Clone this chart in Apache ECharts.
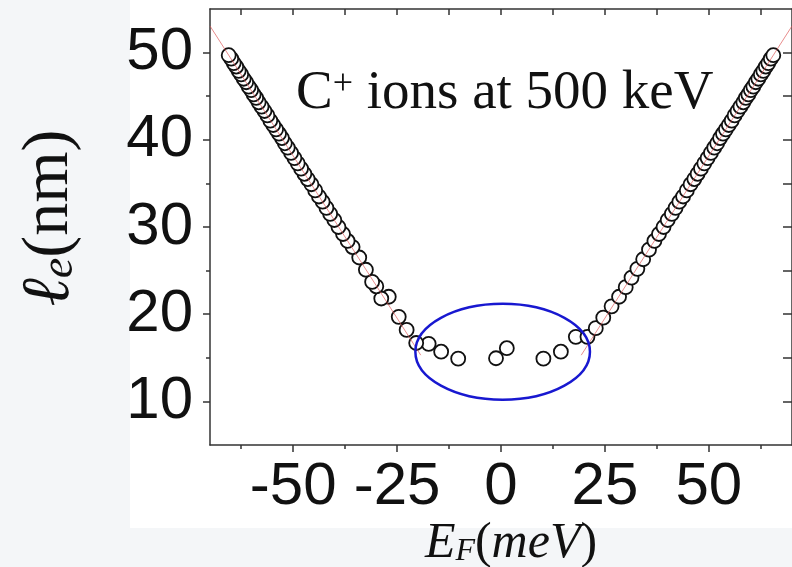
<!DOCTYPE html>
<html><head><meta charset="utf-8">
<script src="https://cdn.jsdelivr.net/npm/echarts@6/dist/echarts.min.js"></script>
<style>html,body{margin:0;padding:0;background:#f4f6f8;}#c{width:792px;height:567px;}</style>
</head><body><div id="c"></div>
<script>
// ---- data ----
const leftX = [-20.4,-22.7,-24.6,-27.0,-28.8,-30.0,-31.0,-32.5,-34.1,-35.7,-36.9,-38.0,-39.1,-40.1,-41.1,-42.0,-42.9,-43.8,-44.7,-45.6,-46.5,-47.3,-48.1,-48.9,-49.7,-50.5,-51.3,-52.0,-52.7,-53.4,-54.1,-54.8,-55.5,-56.2,-56.9,-57.6,-58.3,-58.9,-59.5,-60.1,-60.7,-61.3,-61.9,-62.5,-63.1,-63.7,-64.3,-64.9,-65.5];
const leftY = [16.7,18.2,19.7,22.0,21.8,23.2,23.7,25.1,26.5,27.7,28.4,29.2,30.0,30.8,31.5,32.2,32.9,33.5,34.2,34.9,35.5,36.1,36.7,37.3,37.9,38.5,39.1,39.6,40.2,40.7,41.2,41.7,42.2,42.8,43.3,43.8,44.3,44.8,45.2,45.7,46.1,46.6,47.0,47.5,47.9,48.4,48.8,49.3,49.7];
const rightX = [22.8,24.6,26.6,28.4,30.0,31.4,32.8,34.2,35.6,36.9,38.0,39.1,40.1,41.1,42.0,42.9,43.8,44.7,45.6,46.5,47.3,48.1,48.9,49.7,50.5,51.3,52.0,52.7,53.4,54.1,54.8,55.5,56.2,56.9,57.6,58.3,58.9,59.5,60.1,60.7,61.3,61.9,62.5,63.1,63.7,64.3,64.9,65.5];
const rightY = [18.4,19.6,20.9,22.0,23.1,24.2,25.2,26.3,27.4,28.4,29.2,30.0,30.8,31.5,32.2,32.9,33.5,34.2,34.9,35.5,36.1,36.7,37.3,37.9,38.5,39.1,39.6,40.2,40.7,41.2,41.7,42.2,42.8,43.3,43.8,44.3,44.8,45.2,45.7,46.1,46.6,47.0,47.5,47.9,48.4,48.8,49.3,49.7];
const midX = [-17.4,-14.4,-10.3,-1.2,1.4,10.2,14.4,18.0,20.8];
const midY = [16.6,15.7,14.9,14.95,16.1,14.9,15.7,17.4,17.4];
const fitLeft = [[-70,53.05],[-19.3,15.3]];
const fitRight = [[19.3,15.3],[70,53.05]];
const ellipseData = [[0.4,15.7,21.0,5.5]]; // cx, cy, rx, ry in data units
const xMajor = [-50,-25,0,25,50];
const xMinor = [-62.5,-37.5,-12.5,12.5,37.5,62.5];
const xTop = [-62.5,-50,-37.5,-25,-12.5,0,12.5,25,37.5,50,62.5];
const yMajor = [10,20,30,40,50];
const yMinor = [15,25,35,45];
const yRight = [10,15,20,25,30,35,40,45,50];

const zip = (a,b)=>a.map((v,i)=>[v,b[i]]);
const axCol = '#333';
const lineSt = {color:axCol, width:1.5};
const chart = echarts.init(document.getElementById('c'), null, {renderer:'canvas'});
const sym = {type:'scatter', symbol:'circle', symbolSize:14, z:2,
  itemStyle:{color:'#ffffff', borderColor:'#111', borderWidth:1.8, opacity:1}, emphasis:{disabled:true}};
chart.setOption({
  backgroundColor:'#f4f6f8',
  animation:false,
  grid:{left:210, top:9, width:583, height:436, containLabel:false},
  xAxis:[
    {type:'value', min:-70, max:70, position:'bottom',
     axisLine:{show:true, onZero:false, lineStyle:lineSt},
     axisTick:{show:true, customValues:xMajor, length:7, inside:false, lineStyle:lineSt},
     axisLabel:{show:true, customValues:xMajor, margin:12, fontSize:60, fontFamily:'Liberation Sans, Arial, sans-serif', color:'#111'},
     splitLine:{show:false}},
    {type:'value', min:-70, max:70, position:'bottom',
     axisLine:{show:false, onZero:false},
     axisTick:{show:true, customValues:xMinor, length:4, lineStyle:lineSt},
     axisLabel:{show:false}, splitLine:{show:false}},
    {type:'value', min:-70, max:70, position:'top',
     axisLine:{show:true, onZero:false, lineStyle:lineSt},
     axisTick:{show:true, customValues:xTop, inside:true, length:6, lineStyle:lineSt},
     axisLabel:{show:false}, splitLine:{show:false}}
  ],
  yAxis:[
    {type:'value', min:5, max:55, position:'left',
     axisLine:{show:true, onZero:false, lineStyle:lineSt},
     axisTick:{show:true, customValues:yMajor, length:7, lineStyle:lineSt},
     axisLabel:{show:true, customValues:yMajor, margin:17, fontSize:60, fontFamily:'Liberation Sans, Arial, sans-serif', color:'#111'},
     splitLine:{show:false}},
    {type:'value', min:5, max:55, position:'left',
     axisLine:{show:false, onZero:false},
     axisTick:{show:true, customValues:yMinor, length:4, lineStyle:lineSt},
     axisLabel:{show:false}, splitLine:{show:false}},
    {type:'value', min:5, max:55, position:'right',
     axisLine:{show:true, onZero:false, lineStyle:lineSt},
     axisTick:{show:true, customValues:yRight, inside:true, length:9, lineStyle:lineSt},
     axisLabel:{show:false}, splitLine:{show:false}}
  ],
  series:[
    Object.assign({}, sym, {name:'mid', data:zip(midX,midY)}),
    Object.assign({}, sym, {name:'right', data:zip(rightX,rightY)}),
    Object.assign({}, sym, {name:'left', data:zip(leftX,leftY)}),
    {type:'line', data:fitLeft, symbol:'none', z:3, lineStyle:{color:'rgba(220,80,80,0.65)', width:1}, silent:true},
    {type:'line', data:fitRight, symbol:'none', z:3, lineStyle:{color:'rgba(220,80,80,0.65)', width:1}, silent:true},
    {type:'custom', data:ellipseData, z:4, silent:true,
     renderItem:function(params, api){
       const c = api.coord([api.value(0), api.value(1)]);
       const s = api.size([api.value(2), api.value(3)]);
       return {type:'ellipse', shape:{cx:c[0], cy:c[1], rx:s[0], ry:s[1]},
               style:{fill:'none', stroke:'#1818d0', lineWidth:2.5}};
     }}
  ],
  graphic:[
    {type:'rect', silent:true, z:-100, shape:{x:130, y:0, width:662, height:528}, style:{fill:'#ffffff'}},
    {type:'text', x:296, y:94, z:10, silent:true,
     style:{text:'{a|C}{s|+}{a| ions at 500 keV}', align:'left', verticalAlign:'middle',
       rich:{a:{fontSize:55, lineHeight:54, fontFamily:'Liberation Serif, serif', fill:'#111'},
             s:{fontSize:36, lineHeight:44, verticalAlign:'top', fontFamily:'Liberation Serif, serif', fill:'#111'}}}},
    {type:'text', x:50, y:218, rotation:Math.PI/2, silent:true,
     style:{text:'{l|ℓ}{e|e}{p|(nm)}', align:'center', verticalAlign:'middle',
       rich:{l:{fontSize:68, lineHeight:66, fontStyle:'italic', fontFamily:'Liberation Serif, DejaVu Serif, serif', fill:'#111'},
             e:{fontSize:46, lineHeight:32, verticalAlign:'bottom', fontStyle:'italic', fontFamily:'Liberation Serif, serif', fill:'#111'},
             p:{fontSize:66, lineHeight:66, fontFamily:'Liberation Serif, serif', fill:'#111'}}}},
    {type:'text', x:511, y:544, silent:true,
     style:{text:'{i|E}{f|F}{p|(}{i|meV}{p|)}', align:'center', verticalAlign:'middle',
       rich:{i:{fontSize:50, lineHeight:48, fontStyle:'italic', fontFamily:'Liberation Serif, serif', fill:'#111'},
             f:{fontSize:32, lineHeight:24, verticalAlign:'bottom', fontStyle:'italic', fontFamily:'Liberation Serif, serif', fill:'#111'},
             p:{fontSize:50, lineHeight:48, fontFamily:'Liberation Serif, serif', fill:'#111'}}}}
  ]
});
</script></body></html>
